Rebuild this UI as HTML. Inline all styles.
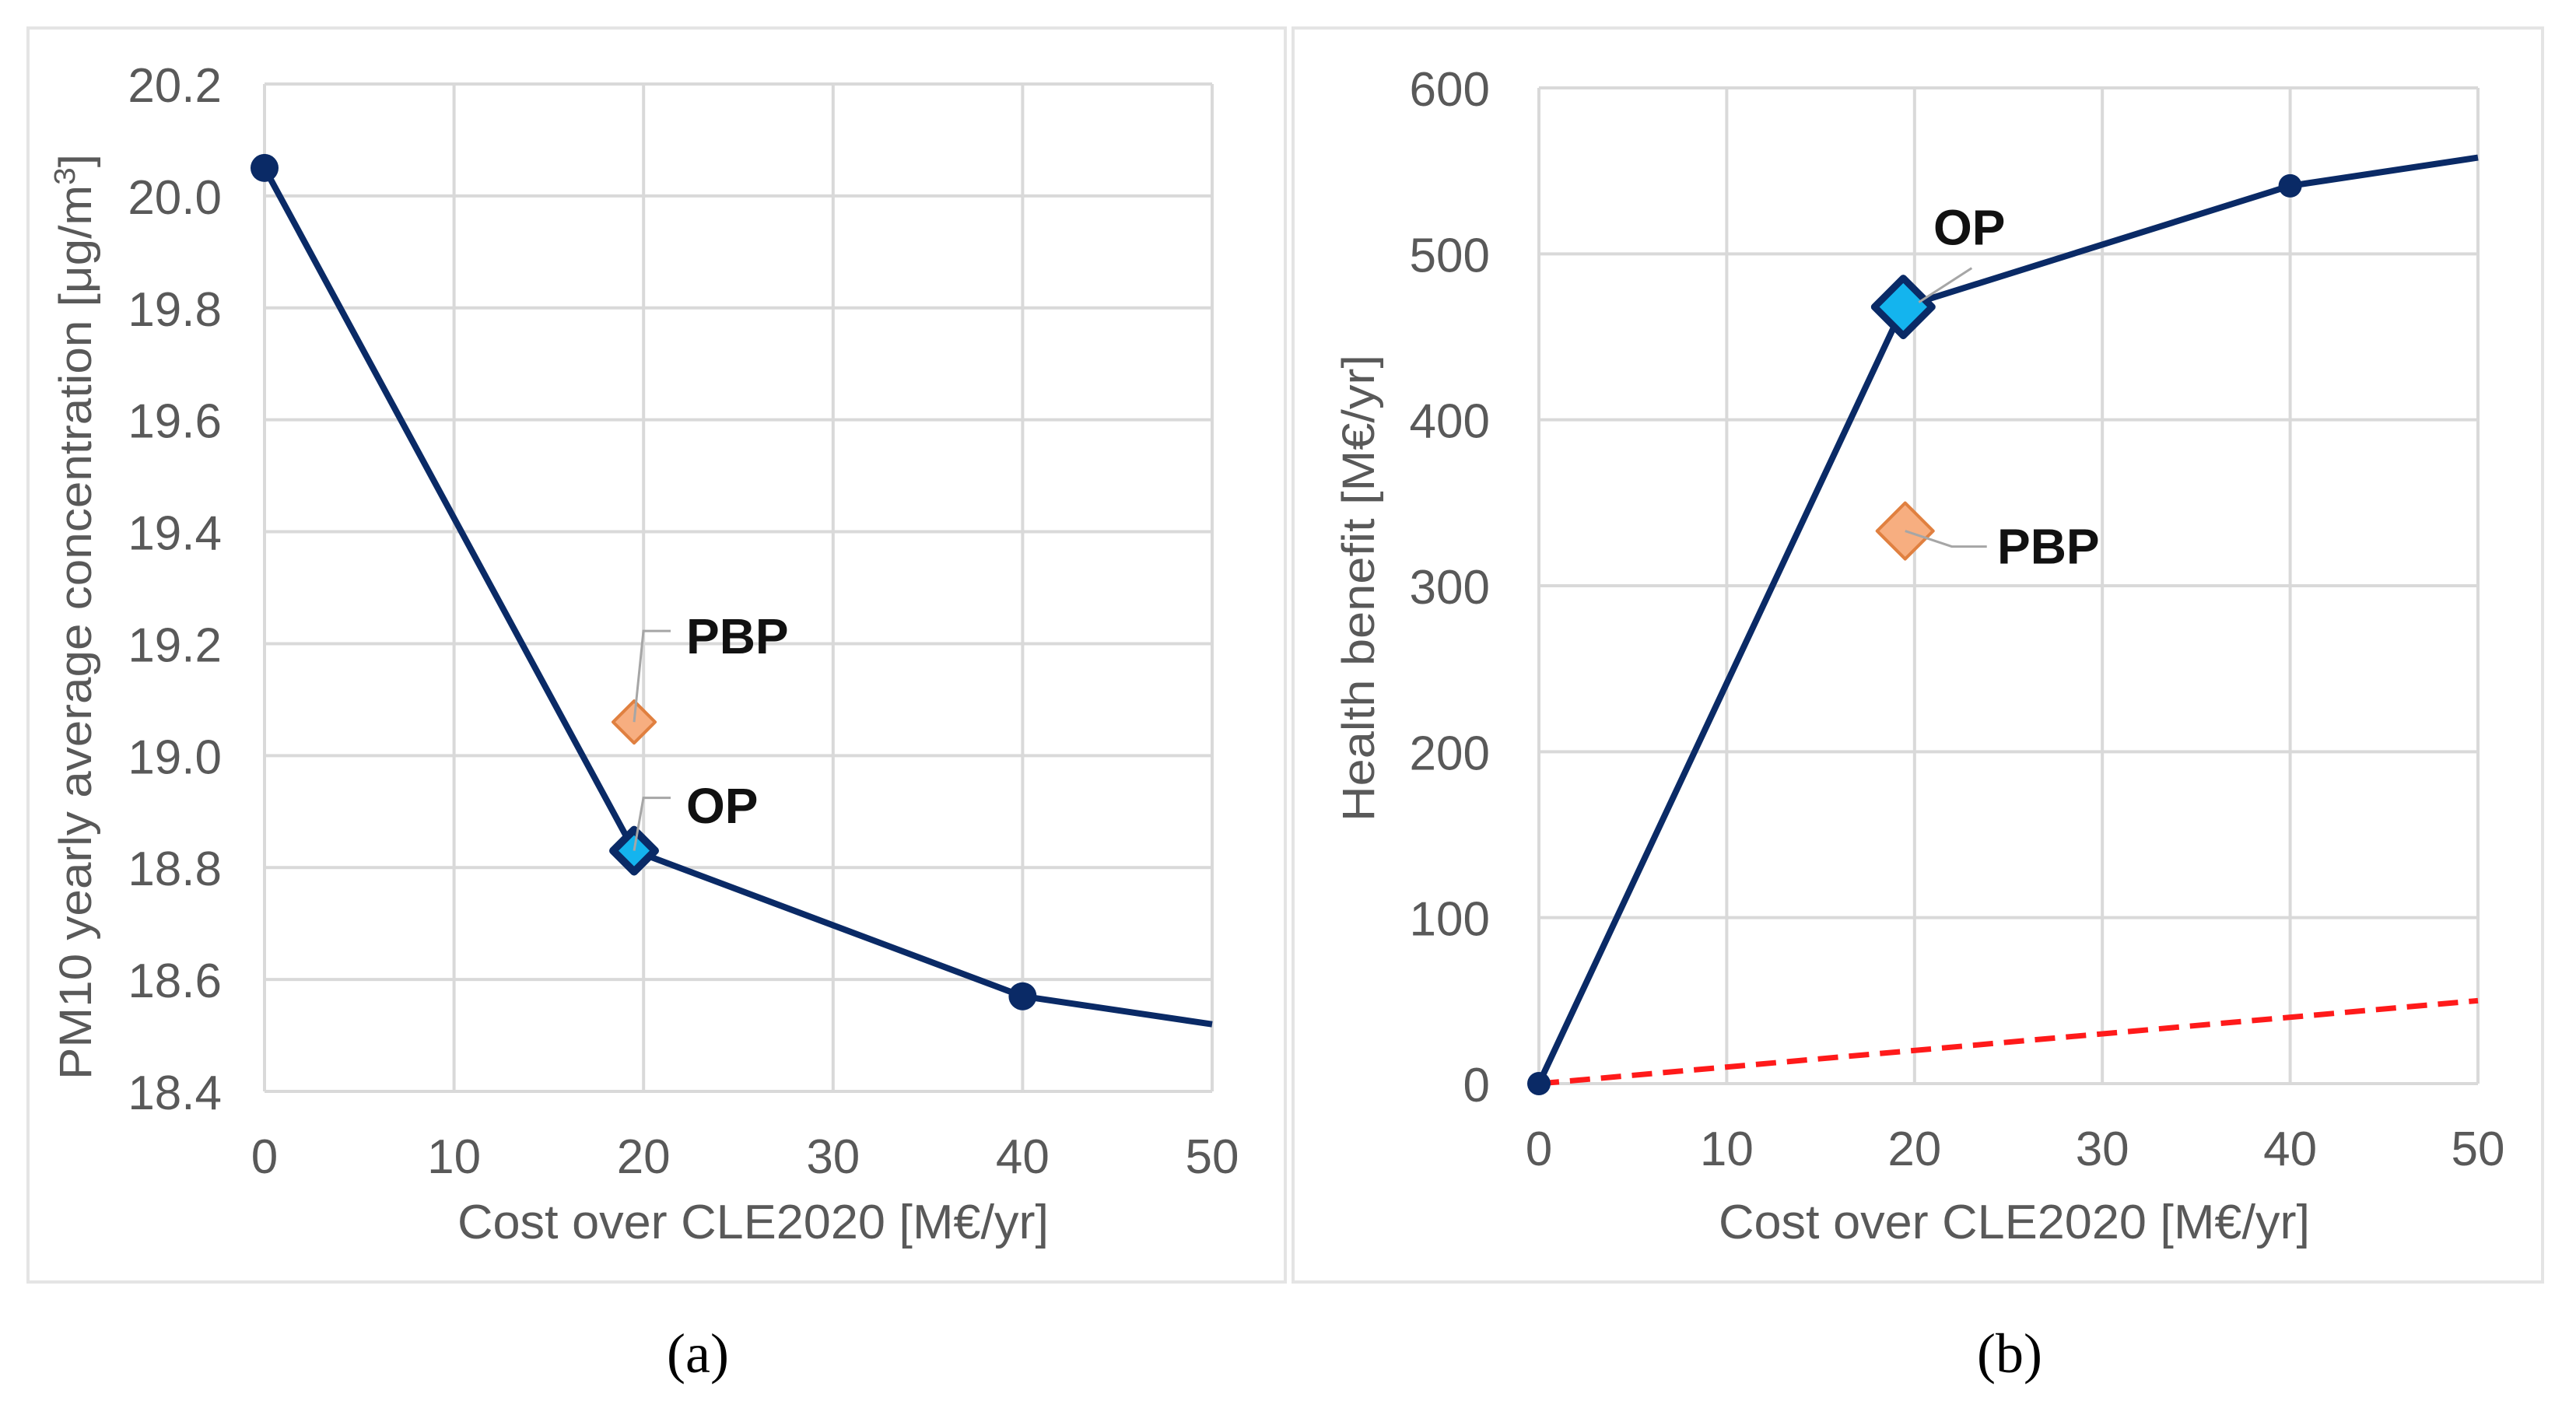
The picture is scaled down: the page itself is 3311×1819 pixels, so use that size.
<!DOCTYPE html>
<html><head><meta charset="utf-8"><style>
html,body{margin:0;padding:0;background:#fff;}
svg{display:block;}
text{font-family:"Liberation Sans",sans-serif;}
</style></head><body>
<svg id="fig" width="3311" height="1819" viewBox="0 0 3311 1819" xmlns="http://www.w3.org/2000/svg">
<rect x="36" y="36" width="1616" height="1612" fill="#fff" stroke="#e4e4e4" stroke-width="4"/>
<rect x="1662" y="36" width="1606" height="1612" fill="#fff" stroke="#e4e4e4" stroke-width="4"/>
<g id="ga"></g>
<g id="gb"></g>
<text x="897" y="1764" font-size="72" text-anchor="middle" style="font-family:'Liberation Serif',serif">(a)</text>
<text x="2583" y="1764" font-size="72" text-anchor="middle" style="font-family:'Liberation Serif',serif">(b)</text>
</svg>
<script>
const xTicks=[0,10,20,30,40,50];
const aYTicks=[18.4,18.6,18.8,19.0,19.2,19.4,19.6,19.8,20.0,20.2];
const aX=[0,19.5,40,50];
const aY=[20.05,18.83,18.57,18.52];
const aOP=[19.5,18.83];
const aPBP=[19.5,19.06];
const bYTicks=[0,100,200,300,400,500,600];
const bX=[0,19.4,40,50];
const bY=[0,468,541,558];
const bOP=[19.4,468];
const bPBP=[19.5,333];
const bCostX=[0,50];
const bCostY=[0,50];

const NS="http://www.w3.org/2000/svg";
function mk(parent,tag,attrs,txt){const e=document.createElementNS(NS,tag);for(const k in attrs)e.setAttribute(k,attrs[k]);if(txt!==undefined)e.textContent=txt;parent.appendChild(e);return e;}

function panel(g,L,R,T,B,xmin,xmax,ymin,ymax,yTicks,yFmt,lblRight,ytitle,ytX,ytY,ytLen,xtCx,pre){
  const sx=v=>L+(v-xmin)/(xmax-xmin)*(R-L);
  const sy=v=>B-(v-ymin)/(ymax-ymin)*(B-T);
  yTicks.forEach(v=>{
    const l=mk(g,'line',{x1:L,x2:R,y1:sy(v),y2:sy(v),stroke:'#d9d9d9','stroke-width':4});
    
    
    const t=mk(g,'text',{x:lblRight,y:sy(v)+23,'font-size':62,fill:'#595959','text-anchor':'end'},yFmt(v));
    
    
  });
  xTicks.forEach(v=>{
    const l=mk(g,'line',{x1:sx(v),x2:sx(v),y1:T,y2:B,stroke:'#d9d9d9','stroke-width':4});
    
    
    const t=mk(g,'text',{x:sx(v),y:B+105,'font-size':62,fill:'#595959','text-anchor':'middle'},String(v));
    
    
  });
  const xt=mk(g,'text',{x:xtCx,y:1592,'font-size':62,fill:'#595959','text-anchor':'middle',textLength:760,lengthAdjust:'spacingAndGlyphs'},'Cost over CLE2020 [M€/yr]');
  
  
  const yt=mk(g,'text',{x:0,y:0,'font-size':58,fill:'#595959','text-anchor':'middle',textLength:ytLen,lengthAdjust:'spacingAndGlyphs',transform:`translate(${ytX},${ytY}) rotate(-90)`});
  yt.innerHTML=ytitle;
  
  
  return {sx,sy};
}
function diamond(g,cx,cy,h,fill,stroke,sw,name){
  const p=mk(g,'polygon',{points:`${cx},${cy-h} ${cx+h},${cy} ${cx},${cy+h} ${cx-h},${cy}`,fill:fill,stroke:stroke,'stroke-width':sw,'stroke-linejoin':'round'});
  
  
}
function label(g,x,y,txt,name){
  const t=mk(g,'text',{x:x,y:y,'font-size':64,'font-weight':'bold',fill:'#111'},txt);
  
  
}
function leader(g,pts,name){
  const p=mk(g,'polyline',{points:pts.map(q=>q.join(',')).join(' '),fill:'none',stroke:'#a6a6a6','stroke-width':3});
  
  
}

// Panel A
const ga=document.getElementById('ga');
const A=panel(ga,340,1558,108,1403,0,50,18.4,20.2,aYTicks,v=>v.toFixed(1),285,
  'PM10 yearly average concentration  [μg/m<tspan baseline-shift="super" font-size="38">3</tspan>]',117,793,1190,968,'a-');
const pa=mk(ga,'polyline',{points:aX.map((x,i)=>A.sx(x)+','+A.sy(aY[i])).join(' '),fill:'none',stroke:'#0a2a66','stroke-width':8,'stroke-linejoin':'round'});


[0,2].forEach(i=>{
  const c=mk(ga,'circle',{cx:A.sx(aX[i]),cy:A.sy(aY[i]),r:18,fill:'#0a2a66'});
  
  
});
diamond(ga,A.sx(aOP[0]),A.sy(aOP[1]),27,'#14b4ee','#0a2a66',10,'a-op-marker');
diamond(ga,A.sx(aPBP[0]),A.sy(aPBP[1]),27,'#f7ae80','#e08040',4,'a-pbp-marker');
leader(ga,[[A.sx(aPBP[0]),A.sy(aPBP[1])],[A.sx(aPBP[0])+12,A.sy(aPBP[1])-117],[A.sx(aPBP[0])+47,A.sy(aPBP[1])-117]],'a-pbp-leader');
leader(ga,[[A.sx(aOP[0]),A.sy(aOP[1])],[A.sx(aOP[0])+12,A.sy(aOP[1])-68],[A.sx(aOP[0])+47,A.sy(aOP[1])-68]],'a-op-leader');
label(ga,882,840,'PBP','a-pbp-label');
label(ga,882,1058,'OP','a-op-label');

// Panel B
const gb=document.getElementById('gb');
const B=panel(gb,1978,3185,113,1393,0,50,0,600,bYTicks,v=>String(v),1915,
  'Health benefit  [M€/yr]',1766,756,600,2589,'b-');
const pc=mk(gb,'polyline',{points:bCostX.map((x,i)=>B.sx(x)+','+B.sy(bCostY[i])).join(' '),fill:'none',stroke:'#ff1a1a','stroke-width':7,'stroke-dasharray':'26,14'});


const pb=mk(gb,'polyline',{points:bX.map((x,i)=>B.sx(x)+','+B.sy(bY[i])).join(' '),fill:'none',stroke:'#0a2a66','stroke-width':8,'stroke-linejoin':'round'});


[0,2].forEach(i=>{
  const c=mk(gb,'circle',{cx:B.sx(bX[i]),cy:B.sy(bY[i]),r:15,fill:'#0a2a66'});
  
  
});
diamond(gb,B.sx(bOP[0]),B.sy(bOP[1]),37,'#14b4ee','#0a2a66',9,'b-op-marker');
diamond(gb,B.sx(bPBP[0]),B.sy(bPBP[1]),36,'#f7ae80','#e08040',4,'b-pbp-marker');
leader(gb,[[B.sx(bOP[0])+20,B.sy(bOP[1])-6],[B.sx(bOP[0])+88,B.sy(bOP[1])-50]],'b-op-leader');
leader(gb,[[B.sx(bPBP[0]),B.sy(bPBP[1])],[B.sx(bPBP[0])+60,B.sy(bPBP[1])+20],[B.sx(bPBP[0])+105,B.sy(bPBP[1])+20]],'b-pbp-leader');
label(gb,2485,B.sy(bOP[1])-80,'OP','b-op-label');
label(gb,2567,B.sy(bPBP[1])+42,'PBP','b-pbp-label');
</script>
</body></html>
